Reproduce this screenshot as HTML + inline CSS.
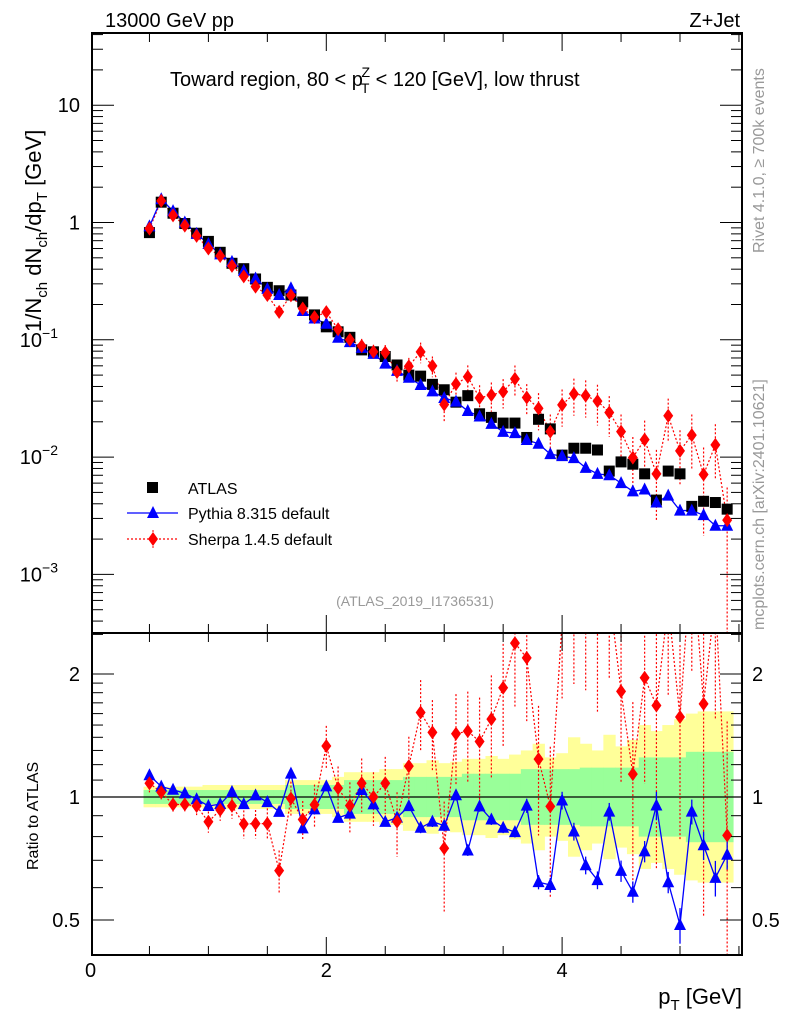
<!DOCTYPE html>
<html><head><meta charset="utf-8"><style>
html,body{margin:0;padding:0;background:#fff;overflow:hidden;}
svg{display:block;}
svg text{font-family:"Liberation Sans",sans-serif;}
</style></head><body>
<svg id="c" width="786" height="1024" xmlns="http://www.w3.org/2000/svg"></svg>
<script>
const atlas=[0.82,1.49,1.20,0.98,0.81,0.69,0.557,0.449,0.404,0.33,0.28,0.262,0.241,0.21,0.163,0.129,0.117,0.105,0.082,0.079,0.072,0.061,0.050,0.049,0.0417,0.0375,0.0294,0.0334,0.0234,0.0218,0.0195,0.0195,0.0147,0.021,0.0174,0.0104,0.0119,0.0119,0.0115,0.0076,0.0091,0.0087,0.0072,0.0043,0.0076,0.0072,0.0038,0.0042,0.0041,0.0036];
const pythia=[0.927,1.58,1.25,1.0,0.80,0.656,0.535,0.462,0.388,0.333,0.272,0.241,0.275,0.176,0.152,0.137,0.104,0.0956,0.0853,0.0758,0.0626,0.0543,0.0475,0.0412,0.0363,0.0319,0.0297,0.0247,0.0222,0.0192,0.0164,0.0160,0.0140,0.0130,0.0106,0.0102,0.0098,0.0081,0.0072,0.0070,0.0060,0.0051,0.0053,0.0041,0.0047,0.0035,0.0035,0.0032,0.0026,0.0026];
const sherpa=[0.886,1.53,1.15,0.94,0.77,0.60,0.518,0.427,0.347,0.284,0.241,0.173,0.239,0.185,0.156,0.172,0.123,0.100,0.0886,0.079,0.0778,0.0531,0.0595,0.0789,0.060,0.0281,0.042,0.0484,0.032,0.0338,0.0361,0.0464,0.0322,0.026,0.0165,0.0279,0.0346,0.0334,0.0300,0.0240,0.0165,0.0099,0.0141,0.0072,0.0225,0.0113,0.0154,0.0071,0.0127,0.0029];
const sherpaErr=[0.05,0.04,0.04,0.04,0.05,0.06,0.06,0.07,0.08,0.08,0.09,0.12,0.1,0.11,0.12,0.12,0.13,0.14,0.15,0.15,0.16,0.18,0.18,0.2,0.2,0.3,0.25,0.25,0.28,0.28,0.28,0.3,0.3,0.35,0.4,0.35,0.35,0.35,0.38,0.38,0.4,0.5,0.45,0.6,0.4,0.5,0.5,0.7,0.5,0.9];
const pythiaErr=[0.01,0.01,0.01,0.01,0.01,0.01,0.01,0.01,0.01,0.01,0.01,0.01,0.01,0.02,0.02,0.02,0.02,0.02,0.02,0.02,0.02,0.02,0.02,0.03,0.03,0.03,0.03,0.03,0.03,0.03,0.03,0.03,0.04,0.04,0.04,0.05,0.05,0.05,0.05,0.05,0.06,0.06,0.06,0.08,0.06,0.1,0.07,0.08,0.1,0.08];
const statBand=[1.04,1.04,1.04,1.04,1.04,1.04,1.04,1.04,1.04,1.04,1.04,1.04,1.07,1.07,1.07,1.07,1.07,1.1,1.1,1.1,1.1,1.1,1.12,1.12,1.12,1.12,1.12,1.14,1.14,1.14,1.14,1.14,1.17,1.17,1.17,1.17,1.17,1.18,1.18,1.18,1.18,1.18,1.25,1.25,1.25,1.25,1.29,1.29,1.29,1.29];
const totBand=[1.06,1.06,1.06,1.06,1.06,1.07,1.07,1.07,1.07,1.07,1.07,1.07,1.1,1.1,1.1,1.1,1.12,1.15,1.15,1.15,1.17,1.17,1.21,1.21,1.23,1.21,1.22,1.24,1.24,1.26,1.24,1.27,1.3,1.35,1.25,1.28,1.4,1.35,1.3,1.42,1.33,1.38,1.5,1.45,1.5,1.55,1.6,1.62,1.62,1.62];
const xTicks=[0,2,4];
const yTicks=[[1,"10"],[0,"1"],[-1,"10"],[-2,"10"],[-3,"10"]];
const rTicks=[[2,"2"],[1,"1"],[0.5,"0.5"]];

const NS="http://www.w3.org/2000/svg";
const svg=document.getElementById('c');
const L=92,R=742,T=33,B=633,RB=955;
const X=v=>90.5+117.9*v;
const Y=v=>222.5-117.3*Math.log10(v);
const RY=r=>797-123*Math.log2(r);
function el(tag,attrs,parent){const e=document.createElementNS(NS,tag);for(const k in attrs)e.setAttribute(k,attrs[k]);(parent||svg).appendChild(e);return e;}
function txt(s,attrs,parent){const e=el('text',attrs,parent);e.textContent=s;return e;}
const xv=i=>0.5+0.1*i;
const clipM=el('clipPath',{id:'cm'});el('rect',{x:L,y:T,width:R-L,height:B-T},clipM);
const clipR=el('clipPath',{id:'cr'});el('rect',{x:L,y:B,width:R-L,height:RB-B},clipR);

const gBand=el('g',{'clip-path':'url(#cr)'});


atlas.forEach((d,i)=>{
  const x0=X(xv(i)-0.05),x1=X(xv(i)+0.05);
  const t=el('rect',{x:x0,y:RY(totBand[i]),width:x1-x0+0.5,height:RY(1/totBand[i])-RY(totBand[i]),fill:'#ffff99'},gBand);
  
  
});
atlas.forEach((d,i)=>{
  const x0=X(xv(i)-0.05),x1=X(xv(i)+0.05);
  const s=el('rect',{x:x0,y:RY(statBand[i]),width:x1-x0+0.5,height:RY(1/statBand[i])-RY(statBand[i]),fill:'#99ff99'},gBand);
  
  
});
el('line',{x1:L,x2:R,y1:RY(1),y2:RY(1),stroke:'#000','stroke-width':1.3});

function diamond(g,x,y,nm){const d=el('polygon',{points:`${x},${y-7} ${x+5},${y} ${x},${y+7} ${x-5},${y}`,fill:'#f00'},g);}
function tri(g,x,y,nm){const d=el('polygon',{points:`${x},${y-7} ${x+6},${y+5} ${x-6},${y+5}`,fill:'#00f'},g);}

const gm=el('g',{'clip-path':'url(#cm)'});


el('polyline',{points:sherpa.map((v,i)=>X(xv(i))+','+Y(v)).join(' '),fill:'none',stroke:'#f00','stroke-width':1.2,'stroke-dasharray':'2,2'},gm);
sherpa.forEach((v,i)=>{const x=X(xv(i));el('line',{x1:x,x2:x,y1:Y(v*(1+sherpaErr[i])),y2:Y(Math.max(v*(1-sherpaErr[i]),1e-4)),stroke:'#f00','stroke-width':1.2,'stroke-dasharray':'2,2'},gm);});
el('polyline',{points:pythia.map((v,i)=>X(xv(i))+','+Y(v)).join(' '),fill:'none',stroke:'#00f','stroke-width':1.3},gm);
atlas.forEach((v,i)=>{const r=el('rect',{x:X(xv(i))-5.5,y:Y(v)-5.5,width:11,height:11,fill:'#000'},gm);});
pythia.forEach((v,i)=>tri(gm,X(xv(i)),Y(v),'pythia-point'));
sherpa.forEach((v,i)=>diamond(gm,X(xv(i)),Y(v),'sherpa-point'));

const gr=el('g',{'clip-path':'url(#cr)'});


const sr=sherpa.map((v,i)=>v/atlas[i]), pr=pythia.map((v,i)=>v/atlas[i]);
el('polyline',{points:sr.map((v,i)=>X(xv(i))+','+RY(v)).join(' '),fill:'none',stroke:'#f00','stroke-width':1.2,'stroke-dasharray':'2,2'},gr);
sr.forEach((v,i)=>{const x=X(xv(i));el('line',{x1:x,x2:x,y1:RY(v*(1+sherpaErr[i])),y2:RY(Math.max(v*(1-sherpaErr[i]),0.2)),stroke:'#f00','stroke-width':1.2,'stroke-dasharray':'2,2'},gr);});
el('polyline',{points:pr.map((v,i)=>X(xv(i))+','+RY(v)).join(' '),fill:'none',stroke:'#00f','stroke-width':1.3},gr);
pr.forEach((v,i)=>{const x=X(xv(i));el('line',{x1:x,x2:x,y1:RY(v*(1+pythiaErr[i])),y2:RY(v*(1-pythiaErr[i])),stroke:'#00f','stroke-width':1.3},gr);});
pr.forEach((v,i)=>tri(gr,X(xv(i)),RY(v),'pythia-ratio-point'));
sr.forEach((v,i)=>diamond(gr,X(xv(i)),RY(v),'sherpa-ratio-point'));

const fm=el('rect',{x:L,y:T,width:R-L,height:B-T,fill:'none',stroke:'#000','stroke-width':2});

const fr=el('rect',{x:L,y:B,width:R-L,height:RB-B,fill:'none',stroke:'#000','stroke-width':2});


for(let k=0;k<=11;k++){const v=k*0.5,x=X(v);if(x<L||x>R)continue;const len=(k%4==0)?18:9;
 [[T,1],[B,-1],[B,1],[RB,-1]].forEach(([y,s])=>el('line',{x1:x,x2:x,y1:y,y2:y+s*len,stroke:'#000','stroke-width':1}));}
xTicks.forEach(v=>{const t=txt(String(v),{x:X(v),y:977,'font-size':20,'text-anchor':'middle'});});
for(let d=-4;d<=1;d++){for(let m=1;m<=9;m++){const v=m*Math.pow(10,d),y=Y(v);if(y<T||y>B)continue;const len=m==1?22:11;
 el('line',{x1:L,x2:L+len,y1:y,y2:y,stroke:'#000'});el('line',{x1:R,x2:R-len,y1:y,y2:y,stroke:'#000'});}}
yTicks.forEach(([e,s])=>{const y=Y(Math.pow(10,e));const t=txt(s,{x:e<0?58:80,y:y+7,'font-size':20,'text-anchor':'end'});
 if(e<0){const ts=el('tspan',{dy:-9,'font-size':14},t);ts.textContent=String.fromCharCode(8722)+Math.abs(e);}
 });
[0.5,0.6,0.7,0.8,0.9,1,1.1,1.2,1.3,1.4,1.5,1.6,1.7,1.8,1.9,2,2.5].forEach(v=>{const y=RY(v);const len=(v==0.5||v==1||v==2)?22:11;
 el('line',{x1:L,x2:L+len,y1:y,y2:y,stroke:'#000'});el('line',{x1:R,x2:R-len,y1:y,y2:y,stroke:'#000'});});
rTicks.forEach(([v,s])=>{const y=RY(v)+7;
 const a=txt(s,{x:80,y:y,'font-size':20,'text-anchor':'end'});
 const b=txt(s,{x:752,y:y,'font-size':20});});

let t;
t=txt('13000 GeV pp',{x:105,y:27,'font-size':20});
t=txt('Z+Jet',{x:740,y:27,'font-size':20,'text-anchor':'end'});
t=el('text',{x:170,y:86,'font-size':20});t.innerHTML='Toward region, 80 &lt; p<tspan font-size="14" dx="-2" dy="7">T</tspan><tspan font-size="14" dx="-8" dy="-16">Z</tspan><tspan dy="9"> &lt; 120 [GeV], low thrust</tspan>';

t=el('text',{transform:'translate(41,332) rotate(-90)','font-size':22});t.innerHTML='1/N<tspan font-size="15" dy="6">ch</tspan><tspan dy="-6"> dN</tspan><tspan font-size="15" dy="6">ch</tspan><tspan dy="-6">/dp</tspan><tspan font-size="15" dy="6">T</tspan><tspan dy="-6"> [GeV]</tspan>';

t=txt('Ratio to ATLAS',{transform:'translate(38,870) rotate(-90)','font-size':16});
t=el('text',{x:742,y:1004,'font-size':22,'text-anchor':'end'});t.innerHTML='p<tspan font-size="15" dy="6">T</tspan><tspan dy="-6"> [GeV]</tspan>';

t=txt('Rivet 4.1.0, \u2265 700k events',{transform:'translate(764,253) rotate(-90)','font-size':16,fill:'#999'});
t=txt('mcplots.cern.ch [arXiv:2401.10621]',{transform:'translate(764,630) rotate(-90)','font-size':16,fill:'#999'});
t=txt('(ATLAS_2019_I1736531)',{x:415,y:606,'font-size':14,fill:'#999','text-anchor':'middle'});

const lg=el('g',{});
const e1=el('g',{},lg);
el('rect',{x:147,y:482,width:11,height:11,fill:'#000'},e1);txt('ATLAS',{x:188,y:494,'font-size':16},e1);
const e2=el('g',{},lg);
el('line',{x1:127,x2:178,y1:513,y2:513,stroke:'#00f','stroke-width':1.3},e2);tri(e2,153,513,'legend-pythia-marker');txt('Pythia 8.315 default',{x:188,y:519,'font-size':16},e2);
const e3=el('g',{},lg);
el('line',{x1:127,x2:178,y1:539,y2:539,stroke:'#f00','stroke-width':1.2,'stroke-dasharray':'2,2'},e3);el('line',{x1:153,x2:153,y1:530,y2:548,stroke:'#f00','stroke-dasharray':'2,2'},e3);diamond(e3,153,539,'legend-sherpa-marker');txt('Sherpa 1.4.5 default',{x:188,y:545,'font-size':16},e3);
</script>
</body></html>
